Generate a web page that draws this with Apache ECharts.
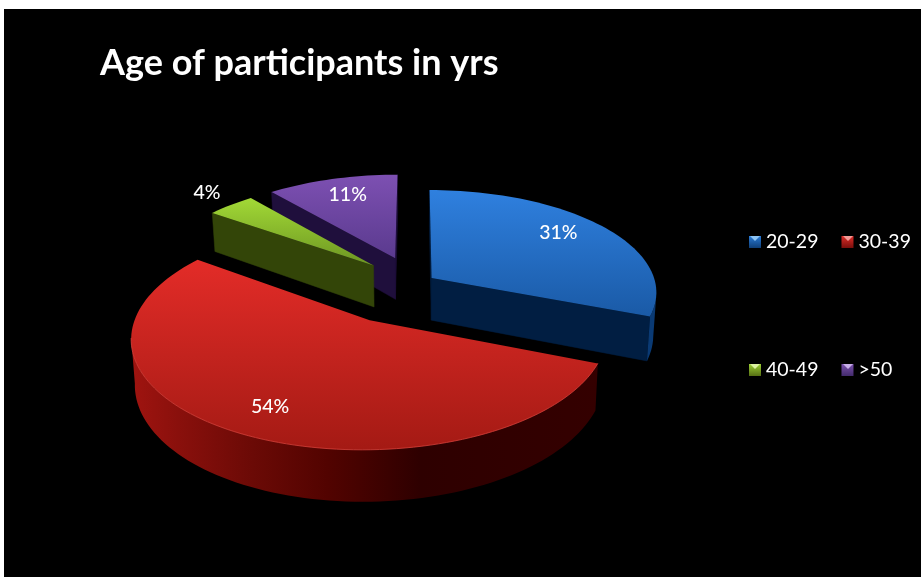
<!DOCTYPE html>
<html>
<head>
<meta charset="utf-8">
<title>Age of participants in yrs</title>
<style>html,body{margin:0;padding:0;background:#fff}#chart{width:921px;height:577px}</style>
<script src="https://cdn.jsdelivr.net/npm/echarts@6/dist/echarts.min.js"></script>
</head>
<body>
<div id="chart"></div>
<script>
// Age groups and their share of participants, in percent.
const categories = ['20-29', '30-39', '40-49', '>50'];
const shares = [31, 54, 4, 11];
const chartTitle = 'Age of participants in yrs';

// Drawing styles, one entry per age group.
const explodeBy = [0.09, 0.4, 0.26, 0.27];
const labelRadius = [0.72, 0.8, 1.2, 0.78];
const labelNudge = [[2, -7], [6, 0], [2, -1], [3, 0]];
const faceColors = [['#2f80df', '#1a5aa6'], ['#e32c28', '#a41a14'], ['#a2d936', '#6d9622'], ['#7d50b2', '#5a3a8e']];
const wallColors = ['#011e42', '#340000', '#334508', '#1f0f3c'];
const rimColors = ['#0a3a74', null, '#334508', '#1f0f3c'];
const rimLights = [null, '#d8403a', null, null];
const iconColors = [['#2a7bd6', '#0f3f78'], ['#dc2c28', '#7a0f0c'], ['#9ccf34', '#566f14'], ['#7a50ad', '#432b6c']];
const iconLights = ['#8cc4f5', '#f39a96', '#dcf3a0', '#c8aee8'];

// Tilted perspective disc the slices sit on.
const disc = { cx: 415, cy: 283, rx: 224, ry: 101, persp: 0.135, depth: 42.5, taper: 0.987 };
const legendPos = { left: 749, tops: [235, 363], column: 93 };
const total = shares.reduce((a, b) => a + b, 0);
const font = 'Lato, "Open Sans", sans-serif';

function project(u, v) {
  const w = 1 / (1 - disc.persp * v);
  return { x: disc.cx + disc.rx * u * w, y: disc.cy + disc.ry * v * w, w };
}
function lower(p) {
  return [disc.cx + (p.x - disc.cx) * disc.taper, p.y + disc.depth * p.w];
}
function polar(turn, r, ox, oy) {
  const a = turn * 2 * Math.PI;
  return [ox + r * Math.sin(a), oy - r * Math.cos(a)];
}
function vGrad(stops) {
  return new echarts.graphic.LinearGradient(0, 0, 0, 1, stops.map((c, i) => ({ offset: i / (stops.length - 1), color: c })));
}
function wallPoly(run) {
  const top = run.map(p => [p.x, p.y]);
  const bottom = run.map(lower).reverse();
  return top.concat(bottom);
}

function renderSlice(index) {
  return function (params, api) {
    const value = api.value(0);
    let before = 0;
    for (let i = 0; i < index; i++) before += shares[i];
    const t0 = before / total;
    const t1 = (before + value) / total;
    const [ox, oy] = polar((t0 + t1) / 2, explodeBy[index], 0, 0);
    const apex = project(ox, oy);
    const steps = Math.max(8, Math.round((t1 - t0) * 200));
    const rim = [];
    for (let s = 0; s <= steps; s++) {
      const [u, v] = polar(t0 + (t1 - t0) * s / steps, 1, ox, oy);
      rim.push(project(u, v));
    }
    const outline = [apex].concat(rim);
    const children = [];

    // Walls are only visible where the outline runs leftwards on screen.
    const wallStyle = { fill: wallColors[index], stroke: wallColors[index], lineWidth: 0.5 };
    if (rim[0].x < apex.x) {
      children.push({ type: 'polygon', shape: { points: wallPoly([apex, rim[0]]) }, style: wallStyle });
    }
    if (apex.x < rim[rim.length - 1].x) {
      children.push({ type: 'polygon', shape: { points: wallPoly([rim[rim.length - 1], apex]) }, style: wallStyle });
    }
    const runs = [];
    let run = [];
    for (let s = 0; s < rim.length - 1; s++) {
      if (rim[s + 1].x < rim[s].x) {
        if (!run.length) run.push(rim[s]);
        run.push(rim[s + 1]);
      } else if (run.length) {
        runs.push(run);
        run = [];
      }
    }
    if (run.length) runs.push(run);
    runs.forEach(r => {
      const fill = rimColors[index] || new echarts.graphic.LinearGradient(1, 0, 0, 0, [
        { offset: 0, color: '#340000' },
        { offset: 0.38, color: '#2e0000' },
        { offset: 0.58, color: '#520300' },
        { offset: 0.74, color: '#6b0a06' },
        { offset: 0.9, color: '#8a100c' },
        { offset: 1, color: '#a01410' }
      ]);
      children.push({ type: 'polygon', shape: { points: wallPoly(r) }, style: { fill } });
    });

    // Top face of the slice.
    children.push({
      type: 'polygon',
      shape: { points: outline.map(p => [p.x, p.y]) },
      style: { fill: vGrad(faceColors[index]) }
    });
    if (rimLights[index]) {
      runs.forEach(r => children.push({
        type: 'polyline',
        shape: { points: r.map(p => [p.x, p.y]) },
        style: { stroke: rimLights[index], lineWidth: 1, fill: 'none', opacity: 0.8 }
      }));
    }

    // Percentage label, placed along the slice's middle direction.
    const [lu, lv] = polar((t0 + t1) / 2, labelRadius[index], ox, oy);
    const lp = project(lu, lv);
    children.push({
      type: 'text',
      style: {
        x: lp.x + labelNudge[index][0], y: lp.y + labelNudge[index][1], text: value + '%', fill: '#ffffff',
        font: '500 19.5px ' + font, align: 'center', verticalAlign: 'middle'
      }
    });
    return { type: 'group', children };
  };
}

function legendData(names) {
  return names.map(name => {
    const i = categories.indexOf(name);
    return { name, icon: 'rect', itemStyle: { color: vGrad(iconColors[i]) } };
  });
}

// Small light wedge at the top of each legend swatch.
function legendWedges() {
  return categories.map((name, i) => {
    const x = legendPos.left + (i % 2) * legendPos.column;
    const y = legendPos.tops[Math.floor(i / 2)] + 1;
    return {
      type: 'polygon', z: 50,
      shape: { points: [[x + 1, y], [x + 11, y], [x + 6, y + 5]] },
      style: { fill: iconLights[i] }
    };
  });
}

const chart = echarts.init(document.getElementById('chart'), null, { renderer: 'canvas' });
chart.setOption({
  animation: false,
  backgroundColor: '#ffffff',
  title: {
    text: chartTitle, left: 100, top: 45, padding: 0,
    textStyle: { color: '#ffffff', fontFamily: font, fontWeight: 'bold', fontSize: 36 }
  },
  legend: [
    { data: legendData(categories.slice(0, 2)), left: legendPos.left, top: legendPos.tops[0] - 3 },
    { data: legendData(categories.slice(2)), left: legendPos.left, top: legendPos.tops[1] - 3 }
  ].map(l => Object.assign(l, {
    orient: 'horizontal', itemWidth: 12, itemHeight: 12, itemGap: 23, padding: 0, selectedMode: false,
    textStyle: { color: '#ffffff', fontFamily: font, fontSize: 19.5 }
  })),
  graphic: [
    { type: 'rect', z: -10, shape: { x: 4, y: 9, width: 917, height: 568 }, style: { fill: '#000000' } }
  ].concat(legendWedges()),
  series: categories.map((name, i) => {
    const turn = (shares.slice(0, i).reduce((a, b) => a + b, 0) + shares[i] / 2) / total * 2 * Math.PI;
    return {
      type: 'custom',
      name,
      coordinateSystem: 'none',
      silent: true,
      z: 10 - Math.round(Math.cos(turn) * 5),
      data: [[shares[i]]],
      renderItem: renderSlice(i)
    };
  })
});
</script>
</body>
</html>
